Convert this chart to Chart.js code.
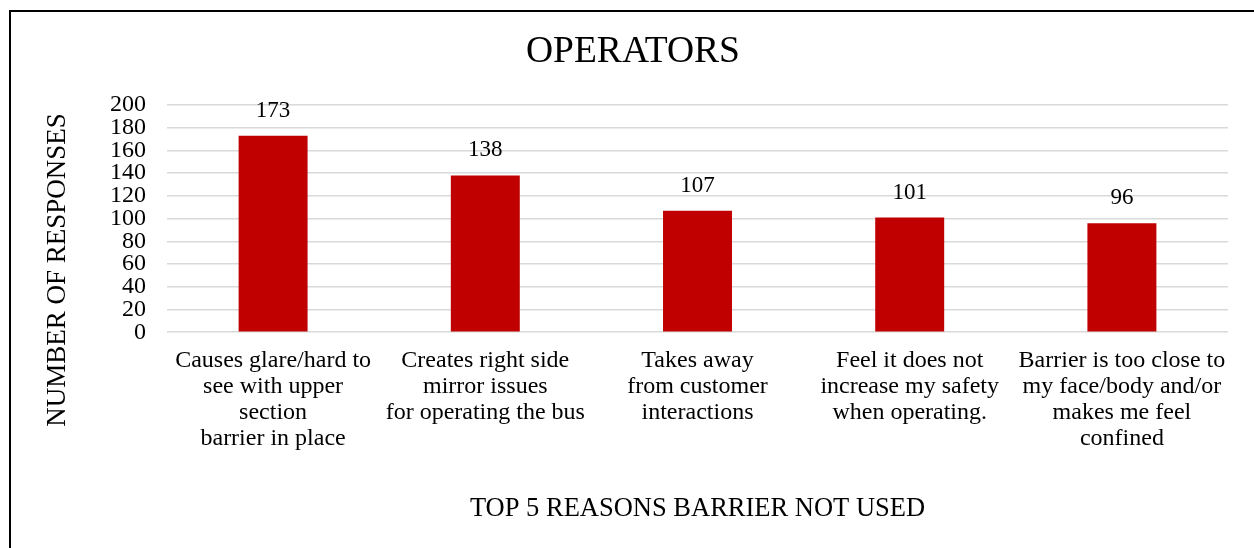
<!DOCTYPE html>
<html>
<head>
<meta charset="utf-8">
<script src="https://cdn.jsdelivr.net/npm/chart.js@4/dist/chart.umd.min.js"></script>
<style>
    html, body { margin: 0; padding: 0; background: #fff; overflow: hidden; }
    #wrap { position: relative; width: 1254px; height: 548px; }
    #frame { position: absolute; left: 9px; top: 10px; width: 1300px; height: 600px; border: 2px solid #000; box-sizing: border-box; }
    canvas { position: absolute; left: 0; top: 0; }
</style>
</head>
<body>
<div id="wrap">
    <div id="frame"></div>
    <canvas id="chartReasons" width="1254" height="548"></canvas>
</div>
<script>
var reasonLabels = [
    ["Causes glare/hard to", "see with upper", "section", "barrier in place"],
    ["Creates right side", "mirror issues", "for operating the bus"],
    ["Takes away", "from customer", "interactions"],
    ["Feel it does not", "increase my safety", "when operating."],
    ["Barrier is too close to", "my face/body and/or", "makes me feel", "confined"]
];
var responseCounts = [173, 138, 107, 101, 96];
var yTicks = [0, 20, 40, 60, 80, 100, 120, 140, 160, 180, 200];

var serif = "'Liberation Serif', 'Times New Roman', serif";

// value printed above each bar
var barValues = {
    id: 'barValues',
    afterDatasetsDraw: function(chart) {
        var ctx = chart.ctx;
        var meta = chart.getDatasetMeta(0);
        ctx.save();
        ctx.font = "23px " + serif;
        ctx.fillStyle = "#000";
        ctx.textAlign = "center";
        ctx.textBaseline = "middle";
        meta.data.forEach(function(bar, i) {
            ctx.fillText(chart.data.datasets[0].data[i], bar.x, bar.y - 25);
        });
        ctx.restore();
    }
};

// main title and y title are centred on the frame, not the plot, so draw them here
var frameTitles = {
    id: 'frameTitles',
    afterDraw: function(chart) {
        var ctx = chart.ctx;
        ctx.save();
        ctx.fillStyle = "#000";
        ctx.textAlign = "center";
        ctx.textBaseline = "middle";
        ctx.font = "37.5px " + serif;
        ctx.fillText("OPERATORS", 633, 52);
        ctx.translate(58, 270);
        ctx.rotate(-Math.PI / 2);
        ctx.font = "27px " + serif;
        ctx.fillText("NUMBER OF RESPONSES", 0, 0);
        ctx.restore();
    }
};

function makeit() {
    var ctx = document.querySelector('#chartReasons').getContext('2d');
    var chart = new Chart(ctx, {
        type: 'bar',
        data: {
            labels: reasonLabels,
            datasets: [{
                label: "Responses",
                backgroundColor: "#C00000",
                borderWidth: 0,
                data: responseCounts,
                categoryPercentage: 1,
                barPercentage: 0.325
            }]
        },
        options: {
            responsive: false,
            animation: false,
            layout: { padding: { left: 89, right: 26, top: 105, bottom: 23 } },
            plugins: {
                legend: { display: false },
                tooltip: { enabled: false },
                title: { display: false }
            },
            scales: {
                x: {
                    grid: { display: false, drawTicks: false },
                    border: { display: false },
                    ticks: {
                        color: "#000",
                        font: { family: serif, size: 24, lineHeight: 1.0833 },
                        padding: 16,
                        maxRotation: 0,
                        autoSkip: false
                    },
                    title: {
                        display: true,
                        text: "TOP 5 REASONS BARRIER NOT USED",
                        color: "#000",
                        font: { family: serif, size: 26.5, weight: 'normal' },
                        padding: { top: 25, bottom: 0 }
                    }
                },
                y: {
                    min: 0,
                    max: 200,
                    afterBuildTicks: function(axis) {
                        axis.ticks = yTicks.map(function(v) { return { value: v }; });
                    },
                    grid: { color: "#d9d9d9", lineWidth: 1.5, drawTicks: false },
                    border: { display: false },
                    ticks: {
                        color: "#000",
                        font: { family: serif, size: 24 },
                        padding: 21,
                        autoSkip: false
                    }
                }
            }
        },
        plugins: [barValues, frameTitles]
    });
}
makeit();
</script>
</body>
</html>
